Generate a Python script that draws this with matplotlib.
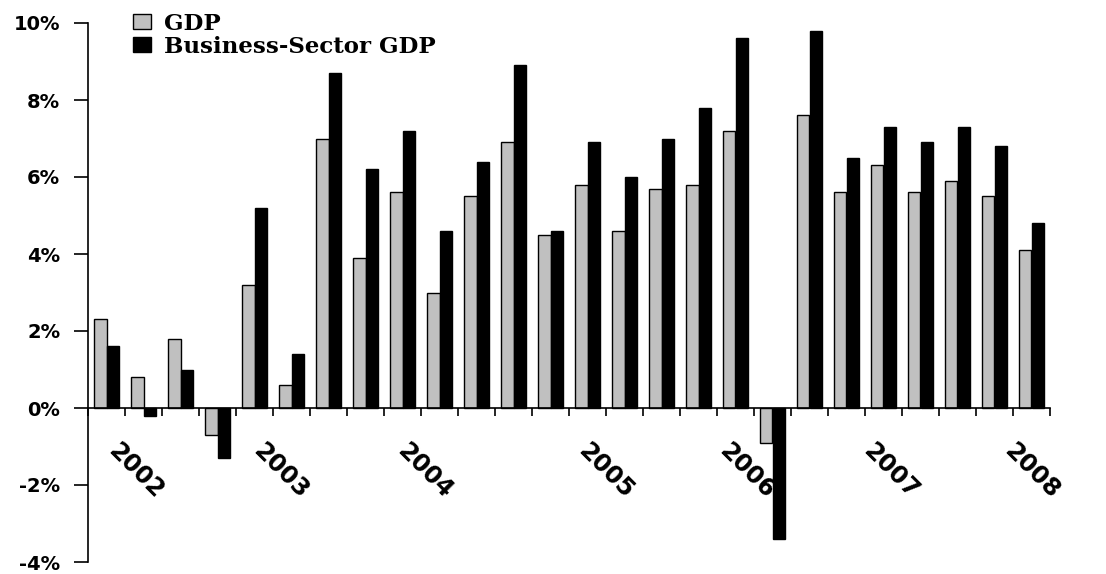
import numpy as np
import matplotlib
matplotlib.use("Agg")
import matplotlib.pyplot as plt
from matplotlib.patches import Patch
from matplotlib.ticker import FuncFormatter

# Quarterly growth, 2002 Q1 - 2008 Q2 (percent, annualised)
quarters = ["2002Q1", "2002Q2", "2002Q3", "2002Q4",
            "2003Q1", "2003Q2", "2003Q3", "2003Q4",
            "2004Q1", "2004Q2", "2004Q3", "2004Q4",
            "2005Q1", "2005Q2", "2005Q3", "2005Q4",
            "2006Q1", "2006Q2", "2006Q3", "2006Q4",
            "2007Q1", "2007Q2", "2007Q3", "2007Q4",
            "2008Q1", "2008Q2"]
gdp = [2.3, 0.8, 1.8, -0.7, 3.2, 0.6, 7.0, 3.9, 5.6, 3.0, 5.5, 6.9, 4.5,
       5.8, 4.6, 5.7, 5.8, 7.2, -0.9, 7.6, 5.6, 6.3, 5.6, 5.9, 5.5, 4.1]
business_gdp = [1.6, -0.2, 1.0, -1.3, 5.2, 1.4, 8.7, 6.2, 7.2, 4.6, 6.4, 8.9, 4.6,
                6.9, 6.0, 7.0, 7.8, 9.6, -3.4, 9.8, 6.5, 7.3, 6.9, 7.3, 6.8, 4.8]
year_labels = ["2002", "2003", "2004", "2005", "2006", "2007", "2008"]
year_label_pos = [0.8, 4.7, 8.6, 13.5, 17.3, 21.2, 25.0]

fig = plt.figure(figsize=(11.06, 5.74), dpi=100)
ax = fig.add_axes([88 / 1106, 1 - 562 / 574, (1050 - 88) / 1106, (562 - 23) / 574])

x = np.arange(len(quarters))
w = 0.34
ax.bar(x - w / 2, gdp, width=w, color="#c0c0c0", edgecolor="black", linewidth=1.0,
       label="GDP", zorder=2)
ax.bar(x + w / 2, business_gdp, width=w, color="black", edgecolor="black", linewidth=1.0,
       label="Business-Sector GDP", zorder=2)

ax.set_xlim(-0.5, len(quarters) - 0.5)
ax.set_ylim(-4, 10)

# y axis
ax.set_yticks(np.arange(-4, 11, 2))
ax.yaxis.set_major_formatter(FuncFormatter(lambda v, p: f"{v:.0f}%"))
ax.tick_params(axis="y", direction="out", length=10, width=1.2, pad=10)
for lab in ax.get_yticklabels():
    lab.set_fontfamily("DejaVu Sans")
    lab.set_fontweight("bold")
    lab.set_fontsize(14)

# x axis sits on zero with ticks at quarter boundaries
ax.spines["top"].set_visible(False)
ax.spines["right"].set_visible(False)
ax.spines["bottom"].set_position(("data", 0))
ax.spines["bottom"].set_linewidth(1.2)
ax.spines["left"].set_linewidth(1.2)
ax.set_xticks(np.arange(-0.5, len(quarters), 1.0))
ax.set_xticklabels([])
ax.tick_params(axis="x", direction="out", length=6, width=1.2)

for lab, pos in zip(year_labels, year_label_pos):
    ax.text(pos, -1.62, lab, rotation=-45, ha="center", va="center",
            fontsize=17.5, fontweight="bold", family="DejaVu Sans")

handles = [Patch(facecolor="#c0c0c0", edgecolor="black", linewidth=1.0),
           Patch(facecolor="black", edgecolor="black")]
fig.legend(handles, ["GDP", "Business-Sector GDP"], loc="upper left",
           bbox_to_anchor=(120 / 1106, 1.0), frameon=False,
           prop={"family": "DejaVu Serif", "weight": "bold", "size": 16.5},
           handlelength=0.8, handleheight=0.65, handletextpad=0.55,
           labelspacing=0.05, borderaxespad=0.15)

fig.savefig("out.png", dpi=100)
